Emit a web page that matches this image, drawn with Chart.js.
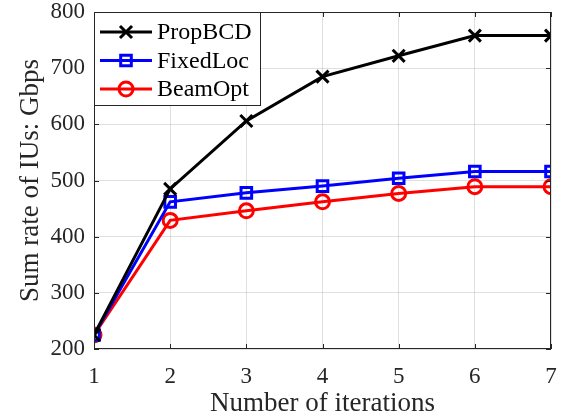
<!DOCTYPE html>
<html>
<head>
<meta charset="utf-8">
<script src="https://cdn.jsdelivr.net/npm/chart.js@4"></script>
<style>
  html, body { margin: 0; padding: 0; background: #fff; }
  #wrap { width: 564px; height: 420px; }
</style>
</head>
<body>
<div id="wrap"><canvas id="sumRate" width="564" height="420"></canvas></div>
<script>
// values
const iterations = [1, 2, 3, 4, 5, 6, 7];
const propBCD  = [225, 485, 606, 685, 722, 758, 758];
const fixedLoc = [225, 462, 478, 490, 504, 516, 516];
const beamOpt  = [225, 429, 446, 462, 477, 489, 489];
const yTicks = [200, 300, 400, 500, 600, 700, 800];

const FONT = "'Liberation Serif', 'Times New Roman', serif";
const AXIS_COLOR = '#262626';

const series = [
  { label: 'PropBCD',  values: propBCD,  color: '#000000', style: 'crossRot', radius: 8.5 },
  { label: 'FixedLoc', values: fixedLoc, color: '#0000ff', style: 'rect',     radius: 7.5 },
  { label: 'BeamOpt',  values: beamOpt,  color: '#ff0000', style: 'circle',   radius: 7 }
];

// box around the plot + inward ticks (MATLAB style), and the legend inside top-left
const frameAndLegend = {
  id: 'frameAndLegend',
  afterDraw(chart) {
    const { ctx, chartArea: a, scales } = chart;
    ctx.save();
    ctx.strokeStyle = AXIS_COLOR;
    ctx.lineWidth = 1;
    ctx.strokeRect(a.left + 0.5, a.top + 0.5, a.right - a.left - 1, a.bottom - a.top - 1);
    const tl = 5;
    ctx.beginPath();
    iterations.forEach(v => {
      const x = Math.round(scales.x.getPixelForValue(v)) + 0.5;
      ctx.moveTo(x, a.bottom); ctx.lineTo(x, a.bottom - tl);
      ctx.moveTo(x, a.top); ctx.lineTo(x, a.top + tl);
    });
    yTicks.forEach(v => {
      const y = Math.round(scales.y.getPixelForValue(v)) + 0.5;
      ctx.moveTo(a.left, y); ctx.lineTo(a.left + tl, y);
      ctx.moveTo(a.right, y); ctx.lineTo(a.right - tl, y);
    });
    ctx.stroke();

    // legend
    const bx = a.left, by = a.top, bw = 166, bh = 93;
    ctx.fillStyle = '#fff';
    ctx.fillRect(bx, by, bw, bh);
    ctx.strokeStyle = AXIS_COLOR;
    ctx.strokeRect(bx + 0.5, by + 0.5, bw, bh);
    ctx.font = `24px ${FONT}`;
    ctx.textBaseline = 'middle';
    chart.data.datasets.forEach((ds, i) => {
      const cy = by + 20 + i * 28.5;
      ctx.strokeStyle = ds.borderColor;
      ctx.lineWidth = 3;
      ctx.beginPath();
      ctx.moveTo(bx + 6, cy); ctx.lineTo(bx + 58, cy);
      ctx.stroke();
      ctx.fillStyle = 'rgba(0,0,0,0)';
      Chart.helpers.drawPoint(ctx, {
        pointStyle: ds.pointStyle, radius: ds.pointRadius, rotation: 0, borderWidth: 3
      }, bx + 32, cy);
      ctx.fillStyle = '#000';
      ctx.fillText(ds.label, bx + 63, cy + 1);
    });
    ctx.restore();
  }
};

const ctx = document.getElementById('sumRate').getContext('2d');

new Chart(ctx, {
  type: 'line',
  data: {
    datasets: series.map(s => ({
      label: s.label,
      data: iterations.map((x, i) => ({ x, y: s.values[i] })),
      borderColor: s.color,
      backgroundColor: 'rgba(0,0,0,0)',
      pointBorderColor: s.color,
      pointBackgroundColor: 'rgba(0,0,0,0)',
      borderWidth: 3,
      pointBorderWidth: 3,
      pointStyle: s.style,
      pointRadius: s.radius,
      tension: 0
    }))
  },
  options: {
    responsive: false,
    animation: false,
    layout: { padding: { left: 0, right: 13, top: 12, bottom: 0 } },
    plugins: {
      legend: { display: false },
      tooltip: { enabled: false }
    },
    scales: {
      x: {
        type: 'linear',
        min: 1, max: 7,
        afterBuildTicks: axis => { axis.ticks = iterations.map(v => ({ value: v })); },
        afterFit: axis => {
          axis.height = 71;
          axis.paddingLeft = 0; axis.paddingRight = 0;
        },
        ticks: { color: AXIS_COLOR, font: { family: FONT, size: 23 }, padding: 14, maxRotation: 0 },
        grid: { color: 'rgba(0,0,0,0.12)', drawTicks: false },
        border: { display: false },
        title: {
          display: true, text: 'Number of iterations', color: AXIS_COLOR,
          font: { family: FONT, size: 27 }, padding: { top: 2, bottom: 0 }
        }
      },
      y: {
        min: 200, max: 800,
        afterBuildTicks: axis => { axis.ticks = yTicks.map(v => ({ value: v })); },
        afterFit: axis => {
          axis.width = 94;
          axis.paddingTop = 0; axis.paddingBottom = 0;
        },
        ticks: { color: AXIS_COLOR, font: { family: FONT, size: 23 }, padding: 9 },
        grid: { color: 'rgba(0,0,0,0.12)', drawTicks: false },
        border: { display: false },
        title: {
          display: true, text: 'Sum rate of IUs: Gbps', color: AXIS_COLOR,
          font: { family: FONT, size: 27 }, padding: { top: 15, bottom: 0 }
        }
      }
    }
  },
  plugins: [frameAndLegend]
});
</script>
</body>
</html>
